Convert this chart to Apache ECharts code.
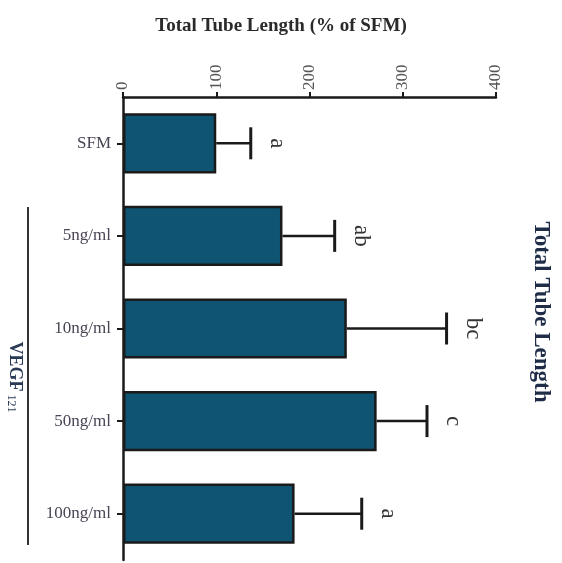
<!DOCTYPE html>
<html>
<head>
<meta charset="utf-8">
<script src="https://cdn.jsdelivr.net/npm/echarts@6/dist/echarts.min.js"></script>
<style>html,body{margin:0;padding:0;background:#fff;}#c{width:562px;height:563px;}</style>
</head>
<body>
<div id="c"></div>
<script>
var categories = ['SFM', '5ng/ml', '10ng/ml', '50ng/ml', '100ng/ml'];
var means = [100, 171, 240, 272, 184];
var errors = [37, 56, 107, 54, 72];
var letters = ['a', 'ab', 'bc', 'c', 'a'];
var axisTicks = [0, 100, 200, 300, 400];

var serif = 'Liberation Serif';
var chart = echarts.init(document.getElementById('c'));
var errData = categories.map(function (c, i) { return [i, means[i], errors[i], letters[i]]; });

chart.setOption({
  backgroundColor: '#fff',
  animation: false,
  title: {
    text: 'Total Tube Length (% of SFM)',
    left: 'center', top: 12,
    textStyle: { fontFamily: serif, fontWeight: 'bold', fontSize: 19, color: '#2a2a2a' }
  },
  grid: { left: 123, right: 66, top: 97, bottom: 3 },
  xAxis: {
    type: 'value', position: 'top', min: axisTicks[0], max: axisTicks[axisTicks.length - 1], interval: 100,
    axisLine: { show: true, lineStyle: { color: '#1a1a1a', width: 2.5 } },
    axisTick: { show: true, length: 5, inside: false, lineStyle: { color: '#1a1a1a', width: 2 } },
    splitLine: { show: false },
    axisLabel: { rotate: -90, margin: 7, fontFamily: serif, fontSize: 17, color: '#555' }
  },
  yAxis: {
    type: 'category', data: categories, inverse: true,
    axisLine: { show: true, lineStyle: { color: '#1a1a1a', width: 2.5 } },
    axisTick: { show: true, alignWithLabel: true, length: 6, lineStyle: { color: '#1a1a1a', width: 2 } },
    axisLabel: { margin: 12, fontFamily: serif, fontSize: 17, color: '#4a4455' }
  },
  graphic: [
    { type: 'line', shape: { x1: 28, y1: 207, x2: 28, y2: 545 }, style: { stroke: '#333', lineWidth: 2 } },
    { type: 'text', x: 15, y: 377, rotation: -Math.PI / 2,
      style: { text: '{b|VEGF}{s|121}', textAlign: 'center', textVerticalAlign: 'middle',
        rich: { b: { fontFamily: serif, fontWeight: 'bold', fontSize: 18, fill: '#2a3a55' },
                s: { fontFamily: serif, fontSize: 12, fill: '#2a3a55', padding: [8, 0, 0, 3] } } } },
    { type: 'text', x: 541, y: 312, rotation: -Math.PI / 2,
      style: { text: 'Total Tube Length', textAlign: 'center', textVerticalAlign: 'middle',
        font: 'bold 23px "Liberation Serif"', fill: '#1f2d48' } }
  ],
  series: [
    {
      type: 'bar', data: means, barCategoryGap: '35%',
      itemStyle: { color: '#0f5473', borderColor: '#1a1a1a', borderWidth: 2.5 }
    },
    {
      type: 'custom', data: errData,
      encode: { x: [1, 2], y: 0 },
      renderItem: function (params, api) {
        var i = api.value(0), m = api.value(1), e = api.value(2);
        var p0 = api.coord([m, i]);
        var p1 = api.coord([m + e, i]);
        var half = 16;
        return {
          type: 'group',
          children: [
            { type: 'line', shape: { x1: p0[0], y1: p0[1], x2: p1[0], y2: p1[1] }, style: { stroke: '#1a1a1a', lineWidth: 2.5 } },
            { type: 'line', shape: { x1: p1[0], y1: p1[1] - half, x2: p1[0], y2: p1[1] + half }, style: { stroke: '#1a1a1a', lineWidth: 3 } },
            { type: 'text', x: p1[0] + 26, y: p1[1], rotation: -Math.PI / 2,
              style: { text: letters[i], textAlign: 'center', textVerticalAlign: 'middle',
                font: '23px "Liberation Serif"', fill: '#333' } }
          ]
        };
      }
    }
  ]
});
</script>
</body>
</html>
